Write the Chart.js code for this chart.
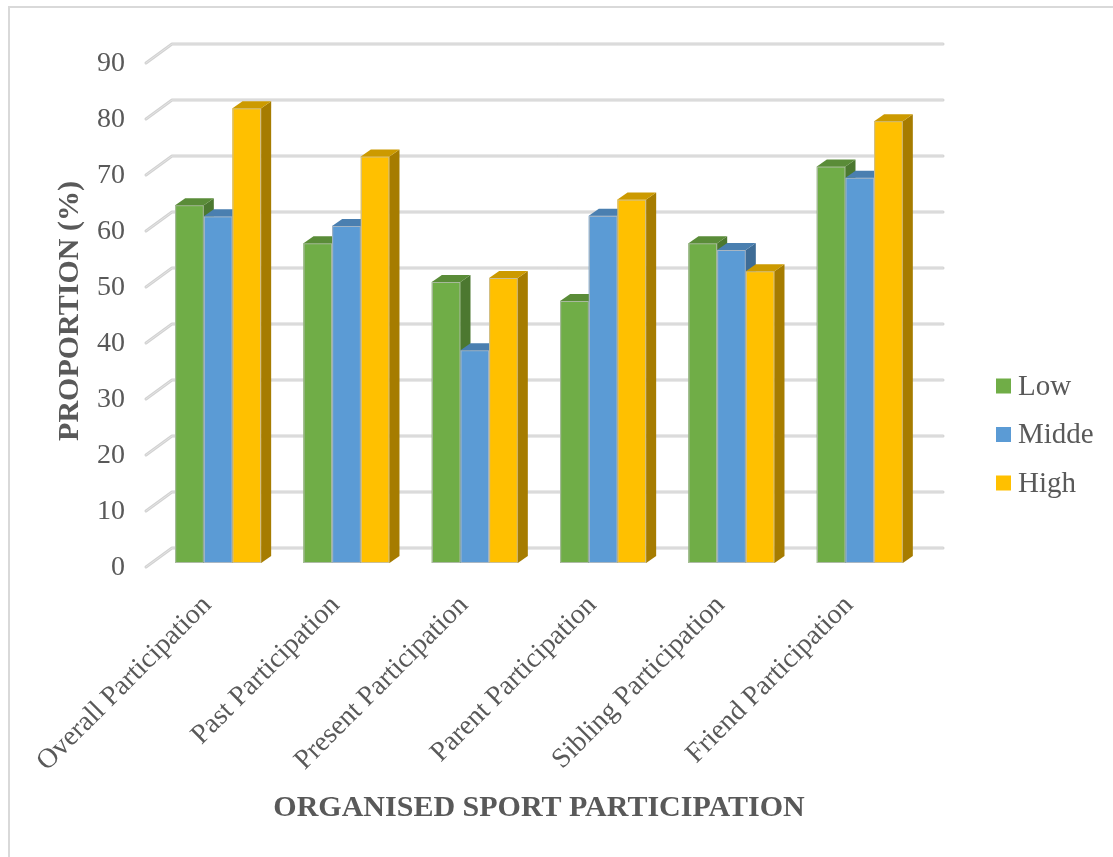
<!DOCTYPE html>
<html>
<head>
<meta charset="utf-8">
<title>Organised sport participation</title>
<script src="https://cdn.jsdelivr.net/npm/chart.js@4.4.1/dist/chart.umd.min.js"></script>
<style>
  html, body { margin: 0; padding: 0; background: #fff; overflow: hidden; }
  #frame { position: absolute; left: 8px; top: 6px; width: 1200px; height: 1000px; border: 2px solid #d9d9d9; }
  #chart { position: absolute; left: 0; top: 0; }
</style>
</head>
<body>
<div id="frame"></div>
<canvas id="chart" width="1113" height="857"></canvas>
<script>
'use strict';

/* ---- data ---- */
var categories = ['Overall Participation', 'Past Participation', 'Present Participation',
                  'Parent Participation', 'Sibling Participation', 'Friend Participation'];
var seriesNames = ['Low', 'Midde', 'High'];
var lowValues   = [63.9, 57.1, 50.2, 46.8, 57.1, 70.8];
var middeValues = [61.9, 60.2, 38.0, 62.0, 55.9, 68.8];
var highValues  = [81.2, 72.6, 50.9, 64.9, 52.1, 78.9];
var yTicks      = [0, 10, 20, 30, 40, 50, 60, 70, 80, 90];

/* ---- look ---- */
var FONT   = "'Liberation Serif', 'Times New Roman', serif";
var INK    = '#595959';
var FRONT  = ['#70AD47', '#5B9BD5', '#FFC000'];
var TOP    = ['#5A8C38', '#4A7FB0', '#CC9A00'];
var SIDE   = ['#4C7830', '#3E6C96', '#A67C00'];
var BAR_DX = 10, BAR_DY = -7;     // bar depth (oblique)
var WALL_DX = 19, WALL_DY = -15;  // front plane -> back wall

var threeD = {
  id: 'threeD',
  beforeDatasetsDraw: function (chart) {
    var ctx = chart.ctx, a = chart.chartArea, ys = chart.scales.y;
    ctx.save();
    ctx.lineCap = 'round';
    ctx.lineJoin = 'round';
    yTicks.forEach(function (v) {
      var yb = ys.getPixelForValue(v) + WALL_DY;
      var bx = a.left + WALL_DX - 1;
      var path = function () {
        ctx.beginPath();
        ctx.moveTo(a.left - 8, yb + 19);
        ctx.lineTo(bx, yb);
        ctx.lineTo(a.right + WALL_DX, yb);
      };
      ctx.strokeStyle = '#d2d2d2'; ctx.lineWidth = 3; path(); ctx.stroke();
      ctx.strokeStyle = '#e4e4e4'; ctx.lineWidth = 1; path(); ctx.stroke();
    });
    ctx.restore();
  },
  afterDatasetsDraw: function (chart) {
    var ctx = chart.ctx;
    ctx.save();
    chart.data.datasets.forEach(function (ds, di) {
      var meta = chart.getDatasetMeta(di);
      meta.data.forEach(function (bar) {
        var p = bar.getProps(['x', 'y', 'base', 'width'], true);
        var l = p.x - p.width / 2, r = p.x + p.width / 2, t = p.y, b = p.base;
        // front face
        ctx.fillStyle = FRONT[di];
        ctx.fillRect(l, t, r - l, b - t);
        ctx.strokeStyle = 'rgba(190,190,190,0.8)';
        ctx.lineWidth = 1;
        ctx.strokeRect(l + 0.5, t + 0.5, r - l - 1, b - t - 1);
        // side face
        ctx.fillStyle = SIDE[di];
        ctx.beginPath();
        ctx.moveTo(r, t); ctx.lineTo(r + BAR_DX, t + BAR_DY);
        ctx.lineTo(r + BAR_DX, b + BAR_DY); ctx.lineTo(r, b);
        ctx.closePath(); ctx.fill();
        // top face
        ctx.fillStyle = TOP[di];
        ctx.beginPath();
        ctx.moveTo(l, t); ctx.lineTo(l + BAR_DX, t + BAR_DY);
        ctx.lineTo(r + BAR_DX, t + BAR_DY); ctx.lineTo(r, t);
        ctx.closePath(); ctx.fill();
      });
    });
    ctx.restore();
  },
  afterDraw: function (chart) {
    // legend, placed as in the reference (right side, below middle)
    var ctx = chart.ctx;
    ctx.save();
    ctx.font = '29px ' + FONT;
    ctx.textBaseline = 'middle';
    ctx.textAlign = 'left';
    chart.data.datasets.forEach(function (ds, i) {
      var cy = 386 + i * 48.5;
      ctx.fillStyle = ds.backgroundColor;
      ctx.fillRect(996, cy - 7.5, 15, 15);
      ctx.fillStyle = INK;
      ctx.fillText(ds.label, 1018, cy + 1);
    });
    ctx.restore();
  }
};

var seriesValues = [lowValues, middeValues, highValues];

new Chart(document.getElementById('chart'), {
  type: 'bar',
  data: {
    labels: categories,
    datasets: seriesNames.map(function (name, i) {
      return {
        label: name,
        data: seriesValues[i],
        backgroundColor: FRONT[i],
        borderWidth: 0,
        barPercentage: 1,
        categoryPercentage: 0.67
      };
    })
  },
  options: {
    responsive: false,
    animation: false,
    events: [],
    layout: { padding: { left: 0, right: 189, top: 59, bottom: 0 } },
    plugins: { legend: { display: false }, tooltip: { enabled: false } },
    scales: {
      x: {
        grid: { display: false, drawTicks: false },
        border: { display: false },
        ticks: {
          autoSkip: false, minRotation: 45, maxRotation: 45,
          color: INK, font: { family: FONT, size: 28 }, padding: 26, labelOffset: -11
        },
        title: {
          display: true, text: 'ORGANISED SPORT PARTICIPATION', color: INK,
          font: { family: FONT, size: 30, weight: 'bold' },
          padding: { top: 0, bottom: 31 }
        },
        afterFit: function (s) { s.height = 294; s.paddingLeft = 0; s.paddingRight = 0; }
      },
      y: {
        min: 0, max: 90,
        grid: { display: false, drawTicks: false },
        border: { display: false },
        ticks: {
          stepSize: 10, color: INK, font: { family: FONT, size: 28 },
          padding: 29, labelOffset: 5
        },
        title: {
          display: true, text: 'PROPORTION (%)', color: INK,
          font: { family: FONT, size: 30, weight: 'bold' },
          padding: { top: 52, bottom: 0 }
        },
        afterFit: function (s) { s.width = 154; s.paddingTop = 0; s.paddingBottom = 0; }
      }
    }
  },
  plugins: [threeD]
});
</script>
</body>
</html>
